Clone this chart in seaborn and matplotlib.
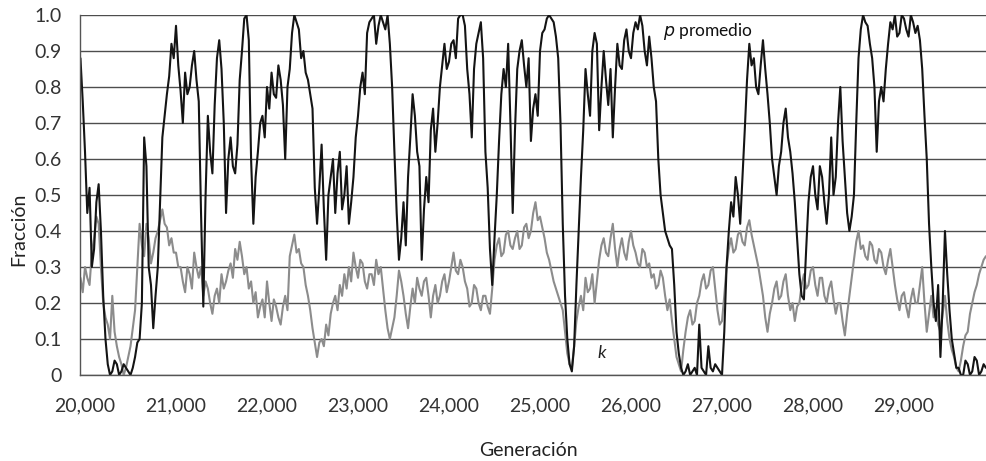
import numpy as np
import pandas as pd
import matplotlib
matplotlib.use('Agg')
import matplotlib.pyplot as plt
import seaborn as sns

generations = np.arange(19950, 29901, 25)

# average p (black line)
p_mean = [
    0.88, 0.76, 0.62, 0.45, 0.52, 0.30, 0.35, 0.48, 0.53, 0.40,
    0.22, 0.10, 0.03, 0.00, 0.01, 0.04, 0.03, 0.00, 0.01, 0.03,
    0.02, 0.01, 0.00, 0.02, 0.05, 0.09, 0.10, 0.20, 0.66, 0.58,
    0.30, 0.25, 0.13, 0.22, 0.30, 0.48, 0.66, 0.72, 0.78, 0.83,
    0.92, 0.88, 0.97, 0.86, 0.79, 0.70, 0.84, 0.78, 0.80, 0.86,
    0.90, 0.82, 0.76, 0.45, 0.19, 0.50, 0.72, 0.62, 0.56, 0.75,
    0.88, 0.93, 0.85, 0.70, 0.45, 0.60, 0.66, 0.58, 0.56, 0.64,
    0.82, 0.90, 0.99, 1.00, 0.93, 0.60, 0.42, 0.55, 0.62, 0.70,
    0.72, 0.66, 0.80, 0.74, 0.84, 0.78, 0.77, 0.86, 0.82, 0.75,
    0.60, 0.80, 0.85, 0.95, 1.00, 0.98, 0.96, 0.88, 0.90, 0.84,
    0.82, 0.78, 0.74, 0.52, 0.42, 0.52, 0.64, 0.46, 0.32, 0.50,
    0.55, 0.60, 0.45, 0.56, 0.62, 0.46, 0.50, 0.58, 0.42, 0.48,
    0.55, 0.66, 0.72, 0.80, 0.84, 0.78, 0.95, 0.98, 0.99, 1.00,
    0.92, 0.97, 1.00, 0.98, 0.96, 1.00, 0.92, 0.80, 0.62, 0.45,
    0.32, 0.38, 0.48, 0.36, 0.55, 0.66, 0.78, 0.72, 0.62, 0.58,
    0.32, 0.46, 0.55, 0.48, 0.68, 0.74, 0.62, 0.70, 0.80, 0.86,
    0.92, 0.85, 0.87, 0.92, 0.93, 0.88, 0.99, 1.00, 1.00, 0.97,
    0.85, 0.78, 0.66, 0.85, 0.92, 0.95, 0.98, 0.88, 0.62, 0.52,
    0.35, 0.25, 0.38, 0.50, 0.65, 0.78, 0.85, 0.80, 0.92, 0.70,
    0.45, 0.68, 0.85, 0.90, 0.93, 0.86, 0.80, 0.88, 0.65, 0.74,
    0.78, 0.72, 0.90, 0.95, 0.96, 0.99, 1.00, 0.99, 0.98, 0.94,
    0.88, 0.70, 0.42, 0.22, 0.10, 0.03, 0.01, 0.08, 0.25, 0.40,
    0.55, 0.68, 0.85, 0.78, 0.72, 0.90, 0.95, 0.92, 0.68, 0.80,
    0.90, 0.82, 0.75, 0.85, 0.66, 0.80, 0.92, 0.86, 0.85, 0.93,
    0.96, 0.90, 0.88, 0.95, 0.98, 0.96, 1.00, 0.97, 0.90, 0.86,
    0.94, 0.88, 0.80, 0.76, 0.60, 0.50, 0.45, 0.40, 0.38, 0.36,
    0.35, 0.25, 0.12, 0.06, 0.02, 0.00, 0.01, 0.03, 0.00, 0.01,
    0.02, 0.00, 0.14, 0.02, 0.01, 0.00, 0.08, 0.02, 0.01, 0.03,
    0.02, 0.01, 0.00, 0.12, 0.30, 0.40, 0.48, 0.44, 0.55, 0.50,
    0.42, 0.55, 0.68, 0.82, 0.92, 0.86, 0.88, 0.80, 0.78, 0.86,
    0.93, 0.85, 0.78, 0.70, 0.60, 0.55, 0.50, 0.58, 0.62, 0.70,
    0.74, 0.66, 0.62, 0.56, 0.48, 0.38, 0.28, 0.22, 0.21, 0.35,
    0.48, 0.55, 0.58, 0.50, 0.46, 0.58, 0.55, 0.48, 0.42, 0.50,
    0.66, 0.50, 0.55, 0.70, 0.80, 0.65, 0.55, 0.45, 0.40, 0.44,
    0.50, 0.70, 0.88, 0.96, 1.00, 0.98, 0.97, 0.92, 0.88, 0.80,
    0.62, 0.76, 0.80, 0.76, 0.85, 0.92, 0.98, 0.96, 1.00, 0.94,
    0.95, 1.00, 0.99, 0.96, 0.94, 1.00, 0.98, 0.95, 0.97, 0.93,
    0.85, 0.72, 0.60, 0.42, 0.30, 0.20, 0.15, 0.25, 0.05, 0.20,
    0.40, 0.28, 0.18, 0.10, 0.06, 0.02, 0.02, 0.00, 0.00, 0.04,
    0.03, 0.00, 0.01, 0.05, 0.04, 0.00, 0.01, 0.03, 0.02,
]

# k (gray line)
k_frac = [
    0.27, 0.23, 0.30, 0.27, 0.25, 0.34, 0.38, 0.44, 0.42, 0.30,
    0.20, 0.16, 0.14, 0.10, 0.22, 0.12, 0.08, 0.05, 0.03, 0.00,
    0.02, 0.05, 0.08, 0.13, 0.18, 0.30, 0.42, 0.36, 0.33, 0.42,
    0.38, 0.31, 0.34, 0.38, 0.40, 0.43, 0.46, 0.42, 0.41, 0.36,
    0.38, 0.34, 0.34, 0.30, 0.30, 0.26, 0.23, 0.30, 0.28, 0.24,
    0.34, 0.30, 0.27, 0.30, 0.22, 0.26, 0.24, 0.20, 0.17, 0.22,
    0.24, 0.20, 0.28, 0.24, 0.26, 0.29, 0.31, 0.27, 0.35, 0.32,
    0.37, 0.33, 0.28, 0.30, 0.24, 0.26, 0.20, 0.23, 0.16, 0.19,
    0.21, 0.16, 0.26, 0.20, 0.15, 0.21, 0.19, 0.16, 0.14, 0.19,
    0.22, 0.18, 0.33, 0.36, 0.39, 0.34, 0.35, 0.31, 0.30, 0.25,
    0.22, 0.18, 0.13, 0.09, 0.05, 0.09, 0.10, 0.08, 0.14, 0.11,
    0.17, 0.20, 0.22, 0.18, 0.25, 0.22, 0.28, 0.24, 0.30, 0.26,
    0.34, 0.30, 0.27, 0.32, 0.31, 0.26, 0.24, 0.28, 0.28, 0.25,
    0.32, 0.28, 0.30, 0.24, 0.18, 0.13, 0.10, 0.13, 0.16, 0.22,
    0.29, 0.26, 0.22, 0.17, 0.13, 0.19, 0.24, 0.20, 0.27, 0.24,
    0.22, 0.26, 0.27, 0.22, 0.16, 0.22, 0.25, 0.20, 0.22, 0.26,
    0.28, 0.23, 0.26, 0.30, 0.34, 0.29, 0.28, 0.32, 0.30, 0.26,
    0.24, 0.19, 0.20, 0.25, 0.24, 0.20, 0.18, 0.22, 0.22, 0.19,
    0.17, 0.24, 0.32, 0.36, 0.38, 0.33, 0.34, 0.39, 0.40, 0.36,
    0.35, 0.38, 0.40, 0.35, 0.36, 0.41, 0.42, 0.38, 0.40, 0.45,
    0.48, 0.43, 0.44, 0.41, 0.38, 0.34, 0.32, 0.29, 0.26, 0.24,
    0.22, 0.20, 0.18, 0.12, 0.06, 0.03, 0.02, 0.08, 0.15, 0.19,
    0.22, 0.18, 0.27, 0.23, 0.24, 0.28, 0.20, 0.26, 0.32, 0.36,
    0.38, 0.34, 0.33, 0.38, 0.42, 0.35, 0.30, 0.35, 0.38, 0.34,
    0.32, 0.37, 0.40, 0.36, 0.34, 0.31, 0.30, 0.35, 0.34, 0.30,
    0.31, 0.27, 0.28, 0.24, 0.25, 0.29, 0.27, 0.22, 0.18, 0.21,
    0.15, 0.10, 0.05, 0.03, 0.01, 0.07, 0.12, 0.16, 0.18, 0.14,
    0.15, 0.20, 0.22, 0.26, 0.28, 0.24, 0.25, 0.29, 0.30, 0.24,
    0.18, 0.14, 0.15, 0.22, 0.30, 0.35, 0.38, 0.34, 0.35, 0.39,
    0.40, 0.37, 0.36, 0.41, 0.43, 0.39, 0.36, 0.33, 0.30, 0.26,
    0.22, 0.16, 0.12, 0.17, 0.20, 0.24, 0.26, 0.21, 0.22, 0.26,
    0.28, 0.22, 0.18, 0.20, 0.15, 0.19, 0.20, 0.25, 0.28, 0.24,
    0.25, 0.29, 0.30, 0.25, 0.22, 0.27, 0.27, 0.22, 0.20, 0.24,
    0.26, 0.21, 0.17, 0.20, 0.20, 0.15, 0.11, 0.17, 0.22, 0.27,
    0.32, 0.37, 0.40, 0.35, 0.36, 0.33, 0.32, 0.37, 0.36, 0.32,
    0.31, 0.35, 0.34, 0.30, 0.28, 0.32, 0.35, 0.30, 0.25, 0.21,
    0.18, 0.22, 0.23, 0.19, 0.16, 0.21, 0.24, 0.20, 0.20, 0.25,
    0.30, 0.20, 0.12, 0.17, 0.22, 0.16, 0.18, 0.14, 0.12, 0.17,
    0.22, 0.15, 0.10, 0.07, 0.05, 0.02, 0.01, 0.04, 0.08, 0.11,
    0.12, 0.17, 0.20, 0.23, 0.25, 0.28, 0.30, 0.32, 0.33,
]

x_ticks = [20000, 21000, 22000, 23000, 24000, 25000, 26000, 27000, 28000, 29000]
x_tick_labels = ['20,000', '21,000', '22,000', '23,000', '24,000',
                 '25,000', '26,000', '27,000', '28,000', '29,000']
y_ticks = [0, 0.1, 0.2, 0.3, 0.4, 0.5, 0.6, 0.7, 0.8, 0.9, 1.0]
y_tick_labels = ['0', '0.1', '0.2', '0.3', '0.4', '0.5', '0.6', '0.7', '0.8', '0.9', '1.0']

df = pd.DataFrame({
    'Generación': np.concatenate([generations, generations]),
    'Fracción': np.concatenate([k_frac, p_mean]),
    'serie': ['k'] * len(generations) + ['p'] * len(generations),
})

sns.set_style('white')
plt.rcParams['font.family'] = ['Lato', 'DejaVu Sans']

fig = plt.figure(figsize=(9.86, 4.61), dpi=100)
ax = fig.add_axes([80 / 986, 86 / 461, 906 / 986, 360 / 461])

# horizontal grid lines behind the data
ax.set_axisbelow(True)
ax.yaxis.grid(True, color='#4d4d4d', linewidth=1.0)
ax.xaxis.grid(False)

sns.lineplot(data=df, x='Generación', y='Fracción', hue='serie',
             palette={'k': '#8c8c8c', 'p': '#141414'}, linewidth=1.5,
             legend=False, ax=ax, estimator=None, sort=False)

ax.set_xlim(19945, 29901)
ax.set_ylim(0, 1.0)
ax.set_xticks(x_ticks)
ax.set_xticklabels(x_tick_labels, fontsize=14, color='#333333')
ax.set_yticks(y_ticks)
ax.set_yticklabels(y_tick_labels, fontsize=14, color='#333333')
ax.tick_params(axis='x', direction='in', length=9, width=1, color='#555555', pad=16)
ax.tick_params(axis='y', length=0, pad=13)

for side in ['top', 'right']:
    ax.spines[side].set_visible(False)
for side in ['left', 'bottom']:
    ax.spines[side].set_color('#555555')
    ax.spines[side].set_linewidth(1.0)

ax.set_xlabel('Generación', fontsize=14, color='#222222')
ax.set_ylabel('Fracción', fontsize=14, color='#222222')
ax.xaxis.set_label_coords(0.495, -0.185)
ax.yaxis.set_label_coords(-0.058, 0.405)

ax.text(26350, 0.955, r'$\it{p}$ promedio', fontsize=12.5, color='#111111',
        va='center', ha='left')
ax.text(25630, 0.062, 'k', fontsize=13, style='italic', color='#222222',
        va='center', ha='left')

fig.savefig('out.png', dpi=100)
